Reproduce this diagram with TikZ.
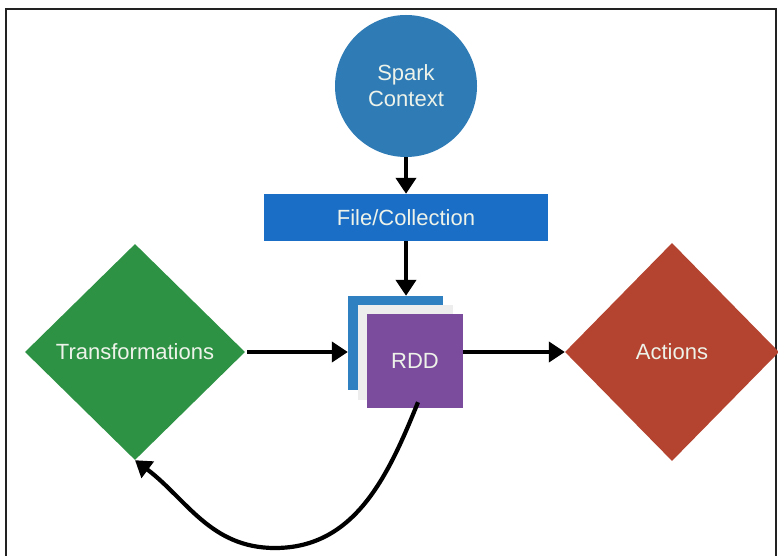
\documentclass[tikz,border=0pt]{standalone}
\usepackage{fontspec}
\setmainfont{Liberation Sans}
\usetikzlibrary{shapes.geometric,arrows.meta}
\definecolor{sparkblue}{HTML}{2E7BB6}
\definecolor{fileblue}{HTML}{1A6EC6}
\definecolor{backblue}{HTML}{2F80C0}
\definecolor{tgreen}{HTML}{2E9245}
\definecolor{ared}{HTML}{B4432F}
\definecolor{rddpurple}{HTML}{7B4B9D}
\definecolor{txtcol}{HTML}{EEF3EA}
\definecolor{framecol}{HTML}{222222}
\tikzset{
  lbl/.style={text=txtcol, font=\fontsize{22}{26}\selectfont, align=center},
  arr/.style={line width=4.2pt, black, -{Triangle[length=16pt,width=20pt]}},
  dia/.style={diamond, inner sep=0pt, lbl},
}
\begin{document}
\begin{tikzpicture}[x=1pt,y=-1pt]
\useasboundingbox (0,0) rectangle (778,556);
\fill[white] (0,0) rectangle (778,556);
\draw[framecol, line width=1.3pt] (6,556) -- (6,9) -- (776,9) -- (776,556);
% Spark Context
\node[circle, fill=sparkblue, minimum size=142pt, inner sep=0pt, lbl] (spark) at (406,86) {Spark\\Context};
% File/Collection
\node[rectangle, fill=fileblue, minimum width=284pt, minimum height=47pt, inner sep=0pt, lbl] (file) at (406,217.5) {File/Collection};
% RDD stack
\node[rectangle, fill=backblue, minimum width=95pt, minimum height=94pt, inner sep=0pt] (rddback) at (395.5,343) {};
\node[rectangle, fill=gray!14, minimum width=95pt, minimum height=95pt, inner sep=0pt] (rddmid) at (405,352.5) {};
\node[rectangle, fill=rddpurple, minimum width=96pt, minimum height=94pt, inner sep=0pt, lbl] (rdd) at (415,361) {RDD};
% Diamonds
\node[dia, fill=tgreen, minimum width=220pt, minimum height=216pt] (trans) at (135,352) {Transformations};
\node[dia, fill=ared, minimum width=214pt, minimum height=218pt] (act) at (672,352) {Actions};
% Arrows
\draw[arr] (spark.south) -- (file.north);
\draw[arr] (file.south) -- (file.south |- rddback.north);
\draw[arr] ([xshift=2pt]trans.east) -- (trans.east -| rddback.west);
\draw[arr] (act.west -| rdd.east) -- (act.west);
\coordinate (low) at (275,548);
\draw[arr] ([xshift=3pt,yshift=6pt]rdd.south) to[out=-112,in=0] (low) to[out=180,in=-37] (trans.south);
\end{tikzpicture}
\end{document}
